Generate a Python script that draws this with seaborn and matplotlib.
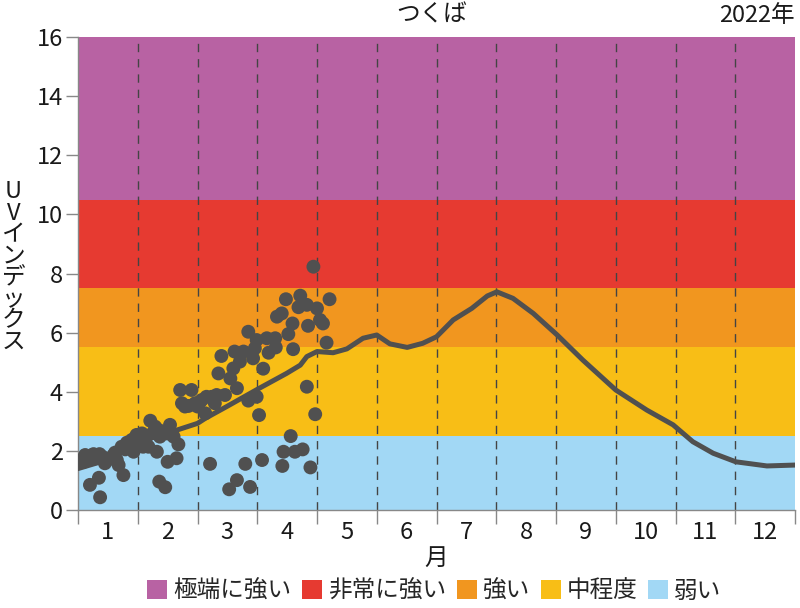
import numpy as np
import pandas as pd
import matplotlib
matplotlib.use("Agg")
import matplotlib.pyplot as plt
from matplotlib.patches import Patch
import seaborn as sns

# ---------------- data ----------------
months = [str(m) for m in range(1, 13)]

band_labels = ["極端に強い", "非常に強い", "強い", "中程度", "弱い"]
band_lo = [10.5, 7.5, 5.5, 2.5, 0.0]
band_hi = [16.0, 10.5, 7.5, 5.5, 2.5]
band_colors = ["#B862A3", "#E63A31", "#F1961F", "#F8BE16", "#A2D8F5"]

# climatological mean (position in months since Jan 1, UV index)
clim_t = [0.0, 0.48, 1.0, 1.65, 2.0, 2.13, 2.49, 3.0, 3.49, 3.72, 3.83, 4.0,
          4.27, 4.50, 4.77, 5.0, 5.22, 5.51, 5.77, 6.0, 6.28, 6.59, 6.85,
          7.01, 7.28, 7.62, 8.02, 8.45, 9.0, 9.52, 9.96, 10.29, 10.63,
          11.01, 11.53, 12.0]
clim_uv = [1.40, 1.69, 2.45, 2.70, 2.93, 3.10, 3.50, 4.08, 4.62, 4.90, 5.19,
           5.36, 5.32, 5.45, 5.81, 5.92, 5.62, 5.50, 5.64, 5.86, 6.43, 6.82,
           7.24, 7.38, 7.16, 6.65, 5.92, 5.07, 4.06, 3.38, 2.88, 2.31, 1.92,
           1.63, 1.49, 1.52]

# 2022 daily maxima (position in months since Jan 1, UV index)
obs_t = [0.06, 0.10, 0.12, 0.17, 0.20, 0.23, 0.26, 0.30, 0.35, 0.36, 0.37,
         0.41, 0.45, 0.50, 0.54, 0.59, 0.62, 0.65, 0.68, 0.73, 0.76, 0.79,
         0.82, 0.87, 0.90, 0.93, 0.96, 0.98,
         1.02, 1.07, 1.09, 1.12, 1.15, 1.18, 1.21, 1.25, 1.29, 1.32, 1.345,
         1.36, 1.37, 1.43, 1.46, 1.49, 1.50, 1.54, 1.57, 1.60, 1.65, 1.68,
         1.71, 1.74, 1.79, 1.85, 1.90, 1.96,
         2.00, 2.04, 2.07, 2.13, 2.15, 2.21, 2.24, 2.29, 2.32, 2.35, 2.40,
         2.46, 2.53, 2.55, 2.60, 2.62, 2.66, 2.66, 2.71, 2.77, 2.80, 2.85,
         2.85, 2.88, 2.93, 2.96, 2.99, 2.99,
         3.03, 3.08, 3.10, 3.16, 3.19, 3.30, 3.31, 3.33, 3.41, 3.42, 3.44,
         3.48, 3.52, 3.56, 3.59, 3.60, 3.63, 3.69, 3.72, 3.76, 3.83, 3.83,
         3.85, 3.89, 3.94, 3.97,
         4.00, 4.05, 4.10, 4.16, 4.21]
obs_uv = [1.70, 1.63, 1.86, 1.80, 0.85, 1.85, 1.89, 1.75, 1.09, 1.89, 0.43,
          1.80, 1.58, 1.70, 1.75, 1.85, 1.94, 1.69, 1.52, 2.14, 1.18, 2.05,
          2.28, 2.20, 2.37, 1.97, 2.45, 2.54,
          2.40, 2.59, 2.14, 2.30, 2.48, 2.14, 3.02, 2.60, 2.82, 1.97, 2.71,
          0.96, 2.48, 2.65, 0.77, 2.59, 1.63, 2.88, 2.59, 2.48, 1.75, 2.22,
          4.06, 3.61, 3.50, 3.52, 4.06, 3.61,
          3.50, 3.66, 3.72, 3.27, 3.83, 1.56, 3.83, 3.61, 3.89, 4.62, 5.21,
          3.89, 0.70, 4.45, 4.79, 5.36, 4.12, 1.01, 5.02, 5.36, 1.56, 3.70,
          6.03, 0.78, 5.13, 5.47, 5.75, 3.83,
          3.21, 1.69, 4.78, 5.81, 5.32, 5.81, 5.50, 6.54, 6.65, 1.49, 1.97,
          7.13, 5.95, 2.50, 6.31, 5.44, 1.97, 6.86, 7.25, 2.05, 6.94, 4.17,
          6.23, 1.44, 8.23, 3.24,
          6.82, 6.43, 6.31, 5.66, 7.13]

title_place = "つくば"
title_year = "2022年"
ylabel_text = "UVインデックス"
xlabel_text = "月"

# ---------------- style ----------------
sns.set_theme(style="white")
plt.rcParams["font.family"] = ["Noto Sans CJK JP", "DejaVu Sans"]

FS = 17
TXT = "#1a1a1a"

fig = plt.figure(figsize=(8.0, 6.08), dpi=100)
ax = fig.add_axes([0.0975, 0.1612, 0.89625, 0.7779])

for lo, hi, c in zip(band_lo, band_hi, band_colors):
    ax.axhspan(lo, hi, color=c, lw=0, zorder=0)

for b in range(1, 12):
    ax.axvline(b, color="#444444", lw=1.0, ls=(0, (6, 5)), zorder=1)

obs = pd.DataFrame({"t": obs_t, "uv": obs_uv})
clim = pd.DataFrame({"t": clim_t, "uv": clim_uv})

sns.scatterplot(data=obs, x="t", y="uv", ax=ax, s=100, color="#505050",
                edgecolor="none", linewidth=0, zorder=3)
sns.lineplot(data=clim, x="t", y="uv", ax=ax, sort=False, color="#505050",
             lw=3.6, zorder=4, solid_joinstyle="round", solid_capstyle="round")

ax.set_xlim(0, 12)
ax.set_ylim(0, 16)
ax.set_yticks(range(0, 17, 2))
ax.set_xticks(np.arange(12) + 0.5)
ax.set_xticklabels(months)
ax.set_xticks(range(0, 13), minor=True)
ax.tick_params(axis="x", which="major", length=0, pad=8, labelsize=FS,
               colors=TXT)
ax.tick_params(axis="x", which="minor", length=10, width=1.0,
               color="#888888", bottom=True)
ax.tick_params(axis="y", length=9, width=1.0, color="#888888", labelsize=FS,
               labelcolor=TXT, left=True, pad=2)

for s in ["top", "right"]:
    ax.spines[s].set_visible(False)
for s in ["left", "bottom"]:
    ax.spines[s].set_color("#888888")
    ax.spines[s].set_linewidth(1.0)

ax.set_ylabel("")
ax.set_xlabel(xlabel_text, fontsize=FS, color=TXT, labelpad=2)

fig.text(0.017, 0.561, "\n".join(list(ylabel_text)), ha="center", va="center",
         fontsize=FS, color=TXT, linespacing=0.92)
fig.text(0.54, 0.975, title_place, ha="center", va="center", fontsize=FS,
         color=TXT)
fig.text(0.994, 0.975, title_year, ha="right", va="center", fontsize=FS,
         color=TXT)

handles = [Patch(facecolor=c, edgecolor="none", label=l)
           for l, c in zip(band_labels, band_colors)]
fig.legend(handles=handles, loc="center", bbox_to_anchor=(0.543, 0.028),
           ncol=5, frameon=False, fontsize=FS, handlelength=0.85,
           handleheight=0.85, handletextpad=0.25, columnspacing=0.45,
           borderaxespad=0)

fig.savefig("out.png", dpi=100)
